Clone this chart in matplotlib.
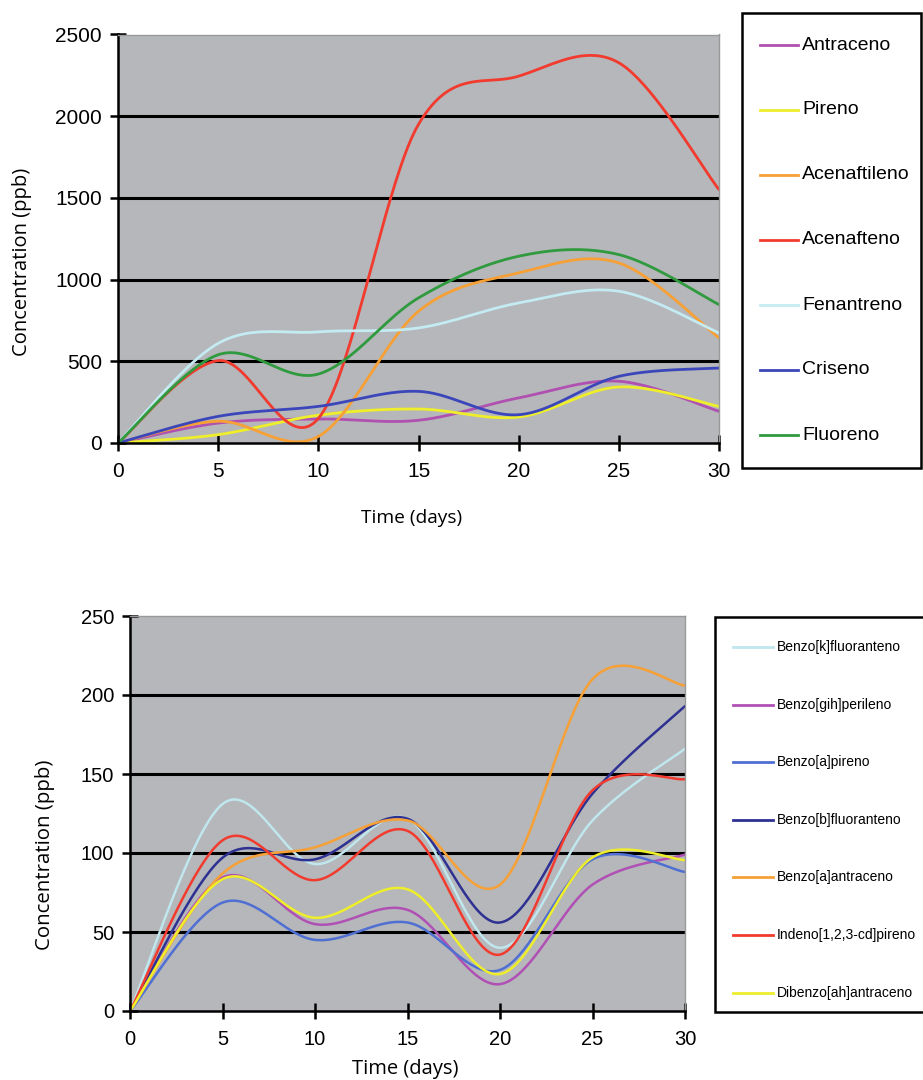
import numpy as np
import matplotlib
matplotlib.use("Agg")
import matplotlib.pyplot as plt
from matplotlib.patches import Rectangle

# ---------------- data ----------------
days = [0, 5, 10, 15, 20, 25, 30]

top_names = ["Antraceno", "Pireno", "Acenaftileno", "Acenafteno",
             "Fenantreno", "Criseno", "Fluoreno"]
antraceno    = [0, 122, 147, 139, 276, 378, 194]
pireno       = [0, 51, 170, 208, 159, 343, 224]
acenaftileno = [0, 133, 40, 806, 1041, 1102, 643]
acenafteno   = [0, 504, 150, 1950, 2245, 2327, 1551]
fenantreno   = [0, 610, 680, 704, 857, 929, 673]
criseno      = [0, 163, 224, 316, 173, 408, 459]
fluoreno     = [0, 540, 422, 888, 1143, 1153, 847]
top_series = [antraceno, pireno, acenaftileno, acenafteno, fenantreno, criseno, fluoreno]
top_colors = ["#b050b0", "#eeee2a", "#f7a035", "#f23a2e", "#c4eaf2", "#3c46bb", "#2f9a3e"]

bot_names = ["Benzo[k]fluoranteno", "Benzo[gih]perileno", "Benzo[a]pireno",
             "Benzo[b]fluoranteno", "Benzo[a]antraceno", "Indeno[1,2,3-cd]pireno",
             "Dibenzo[ah]antraceno"]
benzo_k_fluor = [0, 131, 93, 121.7, 40, 120.6, 166]
benzo_ghi_per = [0, 84.5, 55, 64, 17, 80, 99]
benzo_a_pir   = [0, 68.6, 45, 56, 26, 96, 88]
benzo_b_fluor = [0, 97, 96, 121.7, 56, 137.6, 193]
benzo_a_antr  = [0, 87, 103.6, 120.6, 80, 210, 206]
indeno_pir    = [0, 108, 82.8, 114, 35.7, 139.7, 146.7]
dibenzo_antr  = [0, 83.4, 59, 77, 23.4, 97.2, 95.5]
bot_series = [benzo_k_fluor, benzo_ghi_per, benzo_a_pir, benzo_b_fluor,
              benzo_a_antr, indeno_pir, dibenzo_antr]
bot_colors = ["#c0e6ee", "#b050b5", "#4f6fd2", "#2e3192", "#f7a035", "#f23a2e", "#eeee2a"]

top_yticks = [0, 500, 1000, 1500, 2000, 2500]
bot_yticks = [0, 50, 100, 150, 200, 250]
xticks = [0, 5, 10, 15, 20, 25, 30]


def smooth(x, y, n=40):
    """Excel-like smoothed line (Catmull-Rom through the points)."""
    x = np.asarray(x, float)
    y = np.asarray(y, float)
    px = np.concatenate([[x[0]], x, [x[-1]]])
    py = np.concatenate([[y[0]], y, [y[-1]]])
    xs, ys = [], []
    for i in range(1, len(px) - 2):
        p0x, p1x, p2x, p3x = px[i - 1], px[i], px[i + 1], px[i + 2]
        p0y, p1y, p2y, p3y = py[i - 1], py[i], py[i + 1], py[i + 2]
        m1x, m2x = (p2x - p0x) / 2, (p3x - p1x) / 2
        m1y, m2y = (p2y - p0y) / 2, (p3y - p1y) / 2
        t = np.linspace(0, 1, n)
        h00 = 2 * t**3 - 3 * t**2 + 1
        h10 = t**3 - 2 * t**2 + t
        h01 = -2 * t**3 + 3 * t**2
        h11 = t**3 - t**2
        xs.append(h00 * p1x + h10 * m1x + h01 * p2x + h11 * m2x)
        ys.append(h00 * p1y + h10 * m1y + h01 * p2y + h11 * m2y)
    return np.concatenate(xs), np.concatenate(ys)


BG = "#b5b7ba"
TICKFONT = "Liberation Sans"
LABELFONT = "Open Sans"

fig = plt.figure(figsize=(9.23, 10.8), dpi=100)


def make_axes(rect, series, colors, names, yticks, ymax, lw, tick_fs, ylab_fs, xlab_fs,
              ylab_pos, xlab_pos, leg_rect, leg_fs, leg_top, leg_step, leg_x0, leg_x1):
    ax = fig.add_axes(rect)
    ax.set_facecolor(BG)
    handles = []
    for s, c, nm in zip(series, colors, names):
        sx, sy = smooth(days, s)
        h, = ax.plot(sx, sy, color=c, lw=lw, label=nm, solid_capstyle="round")
        handles.append(h)
    ax.set_xlim(0, 30)
    ax.set_ylim(0, ymax)
    ax.set_xticks(xticks)
    ax.set_yticks(yticks)
    for v in yticks[1:-1]:
        ax.axhline(v, color="black", lw=2.2, zorder=1)
    for sp in ["top", "right"]:
        ax.spines[sp].set_color("#999999")
        ax.spines[sp].set_linewidth(1.0)
    for sp in ["left", "bottom"]:
        ax.spines[sp].set_color("black")
        ax.spines[sp].set_linewidth(1.8)
    ax.tick_params(direction="inout", length=11, width=1.8, color="black",
                   labelsize=tick_fs, pad=6)
    ax.tick_params(axis="x", pad=8)
    for lab in ax.get_xticklabels() + ax.get_yticklabels():
        lab.set_fontfamily(TICKFONT)
    fig.text(ylab_pos[0], ylab_pos[1], "Concentration (ppb)", rotation=90,
             ha="center", va="center", fontsize=ylab_fs, family=LABELFONT)
    fig.text(xlab_pos[0], xlab_pos[1], "Time (days)", ha="center", va="center",
             fontsize=xlab_fs, family=LABELFONT)
    # legend box
    W, H = 923.0, 1080.0
    x0, y0, x1, y1 = leg_rect
    fig.patches.append(Rectangle((x0 / W, 1 - y1 / H), (x1 - x0) / W, (y1 - y0) / H,
                                 transform=fig.transFigure, facecolor="white",
                                 edgecolor="black", lw=1.8))
    for i, (h, nm) in enumerate(zip(handles, names)):
        yc = 1 - (leg_top + i * leg_step) / H
        fig.lines.append(plt.Line2D([leg_x0 / W, leg_x1 / W], [yc, yc],
                                    transform=fig.transFigure, color=h.get_color(), lw=2))
        fig.text((leg_x1 + 4) / W, yc, nm, ha="left", va="center",
                 fontsize=leg_fs, family=TICKFONT)
    return ax


make_axes([118 / 923, 1 - 443 / 1080, 601 / 923, 408.5 / 1080],
          top_series, top_colors, top_names, top_yticks, 2500, 2.0, 15, 14.5, 13.8,
          (22 / 923, 1 - 262 / 1080), (412 / 923, 1 - 518 / 1080),
          (742, 13, 921, 468), 14, 45, 65, 760, 798)

make_axes([130 / 923, 1 - 1011 / 1080, 555 / 923, 395 / 1080],
          bot_series, bot_colors, bot_names, bot_yticks, 250, 1.8, 14.5, 14.7, 14.5,
          (45 / 923, 1 - 855 / 1080), (405 / 923, 1 - 1069 / 1080),
          (715, 617, 925, 1012), 10, 647, 57.6, 733, 773)

fig.savefig("out.png", dpi=100, facecolor="white")
